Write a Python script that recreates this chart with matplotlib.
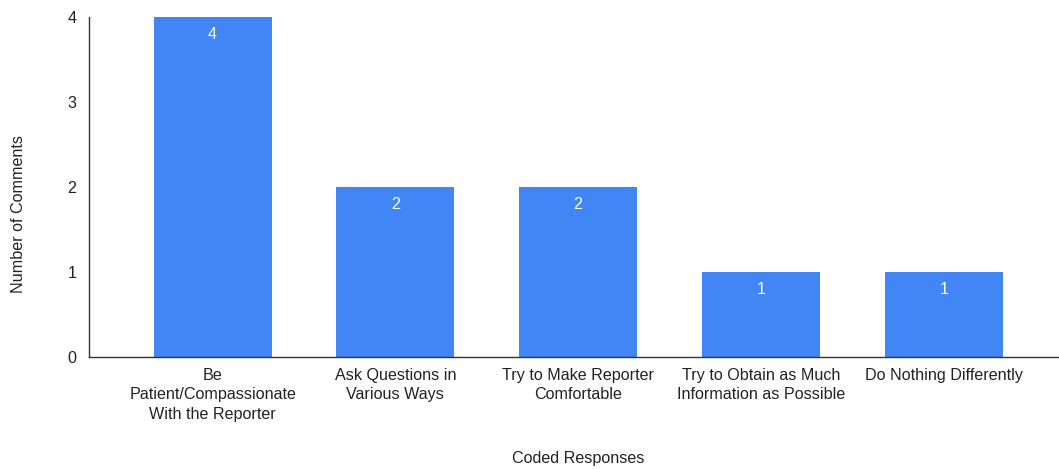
import matplotlib
matplotlib.use("Agg")
import matplotlib.pyplot as plt

categories = [
    "Be\nPatient/Compassionate\nWith the Reporter",
    "Ask Questions in\nVarious Ways",
    "Try to Make Reporter\nComfortable",
    "Try to Obtain as Much\nInformation as Possible",
    "Do Nothing Differently",
]
counts = [4, 2, 2, 1, 1]
y_ticks = [0, 1, 2, 3, 4]

plt.rcParams["font.family"] = ["Liberation Sans", "DejaVu Sans"]
FS = 11.6
TXT = "#222222"

fig = plt.figure(figsize=(10.59, 4.69), dpi=100)
ax = fig.add_axes([89 / 1059, 1 - 357 / 469, 1 - 89 / 1059, (357 - 17) / 469])

x = range(len(categories))
bars = ax.bar(x, counts, width=0.645, color="#4285F4", zorder=2)

for rect, v in zip(bars, counts):
    ax.annotate(str(v), (rect.get_x() + rect.get_width() / 2, v),
                xytext=(0, -17), textcoords="offset pixels",
                ha="center", va="center", color="white", fontsize=FS)

ax.set_xlim(-0.676, 4.63)
ax.set_ylim(0, 4)
ax.set_yticks(y_ticks)
ax.set_xticks(list(x))
ax.set_xticklabels(categories, linespacing=1.36)
ax.tick_params(axis="both", length=0, labelsize=FS, colors=TXT)
ax.tick_params(axis="y", pad=9)
ax.tick_params(axis="x", pad=8)

for s in ("top", "right"):
    ax.spines[s].set_visible(False)
for s in ("left", "bottom"):
    ax.spines[s].set_color("#333333")
    ax.spines[s].set_linewidth(1.0)

ax.set_ylabel("Number of Comments", fontsize=FS, color=TXT)
ax.yaxis.set_label_coords(-(89 - 19) / 1059 / (1 - 89 / 1059), (357 - 214) / 340)
ax.set_xlabel("Coded Responses", fontsize=FS, color=TXT)
ax.xaxis.set_label_coords((578 - 89) / 970, -(458 - 357) / 340)
ax.xaxis.label.set_va("center")
ax.yaxis.label.set_va("center")

fig.savefig("out.png", dpi=100)
